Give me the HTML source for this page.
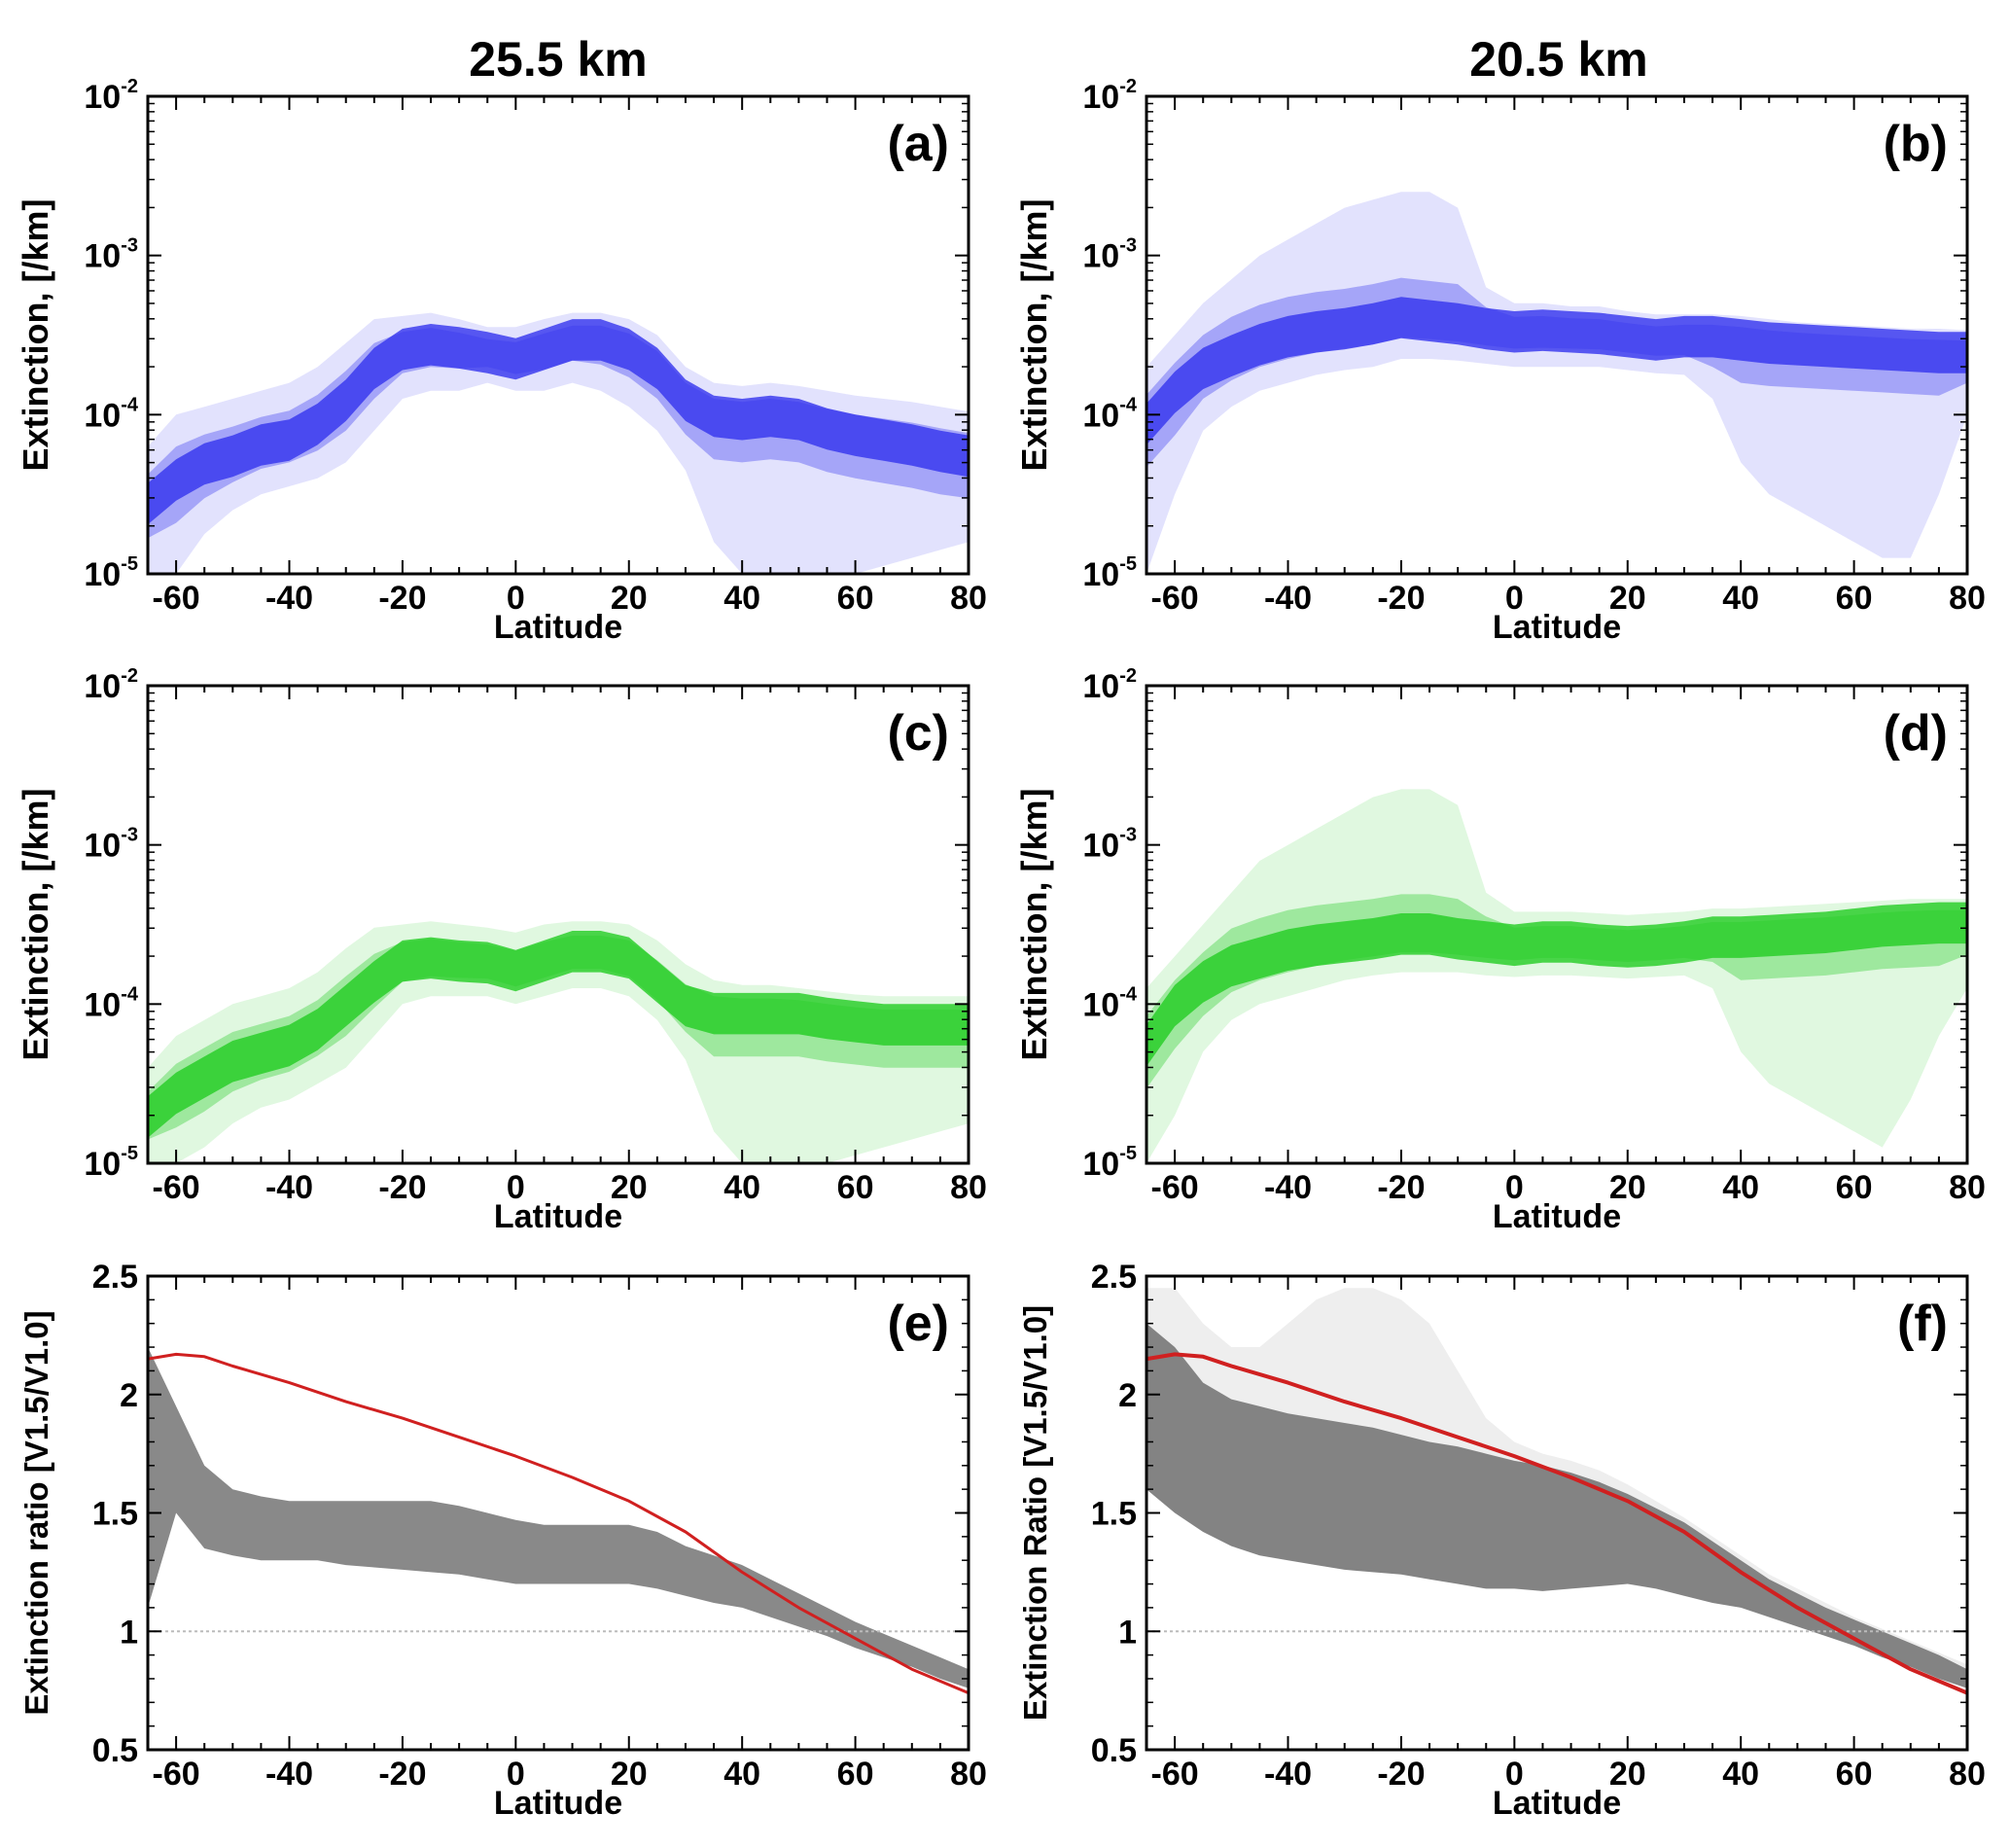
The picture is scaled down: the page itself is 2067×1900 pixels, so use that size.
<!DOCTYPE html>
<html><head><meta charset="utf-8"><style>
html,body{margin:0;padding:0;background:#fff;}
svg{display:block;font-family:"Liberation Sans",Arial,sans-serif;}
</style></head><body>
<svg id="fig" width="2067" height="1900" viewBox="0 0 2067 1900">
<text x="574" y="78" font-size="50" font-weight="bold" text-anchor="middle">25.5 km</text>
<text x="1603" y="78" font-size="50" font-weight="bold" text-anchor="middle">20.5  km</text>
</svg>
<script>
const lats = [-65,-60,-55,-50,-45,-40,-35,-30,-25,-20,-15,-10,-5,0,5,10,15,20,25,30,35,40,45,50,55,60,65,70,75,80];
// log10 extinction centres
const centerA = [-4.55,-4.4,-4.3,-4.25,-4.18,-4.15,-4.05,-3.9,-3.7,-3.58,-3.55,-3.57,-3.6,-3.64,-3.58,-3.52,-3.52,-3.58,-3.7,-3.9,-4.0,-4.02,-4.0,-4.02,-4.08,-4.12,-4.15,-4.18,-4.22,-4.25];
const outerLoA = [-5,-5,-4.75,-4.6,-4.5,-4.45,-4.4,-4.3,-4.1,-3.9,-3.85,-3.85,-3.8,-3.85,-3.85,-3.8,-3.85,-3.95,-4.1,-4.35,-4.8,-5,-5,-5,-5,-5,-4.95,-4.9,-4.85,-4.8];
const outerHiA = [-4.2,-4.0,-3.95,-3.9,-3.85,-3.8,-3.7,-3.55,-3.4,-3.38,-3.36,-3.4,-3.45,-3.45,-3.4,-3.36,-3.36,-3.4,-3.5,-3.7,-3.8,-3.82,-3.8,-3.82,-3.85,-3.88,-3.9,-3.92,-3.95,-3.98];
const centerB = [-4.05,-3.85,-3.7,-3.62,-3.55,-3.5,-3.47,-3.45,-3.42,-3.38,-3.4,-3.42,-3.45,-3.47,-3.46,-3.47,-3.48,-3.5,-3.52,-3.5,-3.5,-3.52,-3.54,-3.55,-3.56,-3.57,-3.58,-3.59,-3.6,-3.6];
const outerLoB = [-5,-4.5,-4.1,-3.95,-3.85,-3.8,-3.75,-3.72,-3.7,-3.65,-3.65,-3.66,-3.68,-3.7,-3.7,-3.7,-3.7,-3.72,-3.74,-3.75,-3.9,-4.3,-4.5,-4.6,-4.7,-4.8,-4.9,-4.9,-4.5,-4.0];
const outerHiB = [-3.7,-3.5,-3.3,-3.15,-3.0,-2.9,-2.8,-2.7,-2.65,-2.6,-2.6,-2.7,-3.2,-3.3,-3.3,-3.32,-3.32,-3.35,-3.37,-3.37,-3.37,-3.38,-3.4,-3.42,-3.43,-3.44,-3.45,-3.46,-3.46,-3.47];
const centerC = [-4.7,-4.55,-4.45,-4.35,-4.3,-4.25,-4.15,-4.0,-3.85,-3.72,-3.7,-3.72,-3.73,-3.78,-3.72,-3.66,-3.66,-3.7,-3.85,-4.0,-4.05,-4.05,-4.05,-4.05,-4.08,-4.1,-4.12,-4.12,-4.12,-4.12];
const outerLoC = [-5,-5,-4.9,-4.75,-4.65,-4.6,-4.5,-4.4,-4.2,-4.0,-3.95,-3.95,-3.95,-4.0,-3.95,-3.9,-3.9,-3.95,-4.1,-4.35,-4.8,-5,-5,-5,-5,-4.95,-4.9,-4.85,-4.8,-4.75];
const outerHiC = [-4.4,-4.2,-4.1,-4.0,-3.95,-3.9,-3.8,-3.65,-3.52,-3.5,-3.48,-3.5,-3.52,-3.55,-3.5,-3.48,-3.48,-3.5,-3.6,-3.75,-3.85,-3.88,-3.88,-3.9,-3.92,-3.94,-3.95,-3.95,-3.95,-3.95];
const centerD = [-4.25,-4.0,-3.85,-3.75,-3.7,-3.65,-3.62,-3.6,-3.58,-3.55,-3.55,-3.58,-3.6,-3.62,-3.6,-3.6,-3.62,-3.63,-3.62,-3.6,-3.57,-3.57,-3.56,-3.55,-3.54,-3.52,-3.5,-3.49,-3.48,-3.48];
const outerLoD = [-5,-4.7,-4.3,-4.1,-4.0,-3.95,-3.9,-3.85,-3.82,-3.8,-3.8,-3.8,-3.82,-3.83,-3.82,-3.82,-3.83,-3.84,-3.83,-3.82,-3.9,-4.3,-4.5,-4.6,-4.7,-4.8,-4.9,-4.6,-4.2,-3.9];
const outerHiD = [-3.9,-3.7,-3.5,-3.3,-3.1,-3.0,-2.9,-2.8,-2.7,-2.65,-2.65,-2.75,-3.3,-3.42,-3.42,-3.42,-3.43,-3.44,-3.43,-3.42,-3.4,-3.4,-3.39,-3.38,-3.37,-3.36,-3.35,-3.34,-3.34,-3.34];
// ratio clouds
const loE = [1.1,1.5,1.35,1.32,1.3,1.3,1.3,1.28,1.27,1.26,1.25,1.24,1.22,1.2,1.2,1.2,1.2,1.2,1.18,1.15,1.12,1.1,1.06,1.02,0.98,0.93,0.89,0.85,0.8,0.76];
const hiE = [2.2,1.95,1.7,1.6,1.57,1.55,1.55,1.55,1.55,1.55,1.55,1.53,1.5,1.47,1.45,1.45,1.45,1.45,1.42,1.36,1.32,1.28,1.22,1.16,1.1,1.04,0.99,0.94,0.89,0.84];
const loF = [1.6,1.5,1.42,1.36,1.32,1.3,1.28,1.26,1.25,1.24,1.22,1.2,1.18,1.18,1.17,1.18,1.19,1.2,1.18,1.15,1.12,1.1,1.06,1.02,0.98,0.94,0.89,0.85,0.8,0.76];
const hiF = [2.3,2.2,2.05,1.98,1.95,1.92,1.9,1.88,1.86,1.83,1.8,1.78,1.75,1.72,1.7,1.67,1.63,1.58,1.52,1.46,1.38,1.3,1.22,1.16,1.1,1.05,1.0,0.95,0.9,0.84];
const outHiF = [2.45,2.45,2.3,2.2,2.2,2.3,2.4,2.45,2.45,2.4,2.3,2.1,1.9,1.8,1.75,1.72,1.68,1.62,1.55,1.48,1.4,1.32,1.24,1.18,1.12,1.06,1.01,0.96,0.91,0.86];
const curveLat = [-65,-60,-55,-50,-40,-30,-20,-10,0,10,20,30,40,50,60,70,80];
const curveVal = [2.15,2.17,2.16,2.12,2.05,1.97,1.9,1.82,1.74,1.65,1.55,1.42,1.25,1.1,0.97,0.84,0.74];
const xTicks = [-60,-40,-20,0,20,40,60,80];
const logTicks = [-5,-4,-3,-2];
const ratioTicks = [0.5,1,1.5,2,2.5];
const ratioLabels = ['0.5','1','1.5','2','2.5'];

const NS='http://www.w3.org/2000/svg';
const svg=document.getElementById('fig');
function mk(tag,attrs,parent){const e=document.createElementNS(NS,tag);for(const k in attrs)e.setAttribute(k,attrs[k]);(parent||svg).appendChild(e);return e;}

function panel(cfg){
  const g=mk('g',{});
  
  
  const L=cfg.L,T=cfg.T,W=844,H=cfg.H;
  const xs=v=>L+(v+65)/145*W;
  const ys=cfg.log? (v=>T+H-(v+5)/3*H) : (v=>T+H-(v-0.5)/2*H);
  const clip=mk('clipPath',{id:'c'+cfg.tag},g);
  mk('rect',{x:L,y:T,width:W,height:H},clip);
  const cg=mk('g',{'clip-path':'url(#c'+cfg.tag+')'},g);
  const gBand=(lo,hi,fill,op,name)=>{
    let d='';
    lats.forEach((la,i)=>{d+=(i?'L':'M')+xs(la).toFixed(1)+','+ys(hi[i]).toFixed(1);});
    for(let i=lats.length-1;i>=0;i--) d+='L'+xs(lats[i]).toFixed(1)+','+ys(lo[i]).toFixed(1);
    const p=mk('path',{d:d+'Z',fill:fill,'fill-opacity':op},cg);
    
    
  };
  if(cfg.log){
    gBand(cfg.oLo,cfg.oHi,cfg.color,0.14,'scatter-outer-'+cfg.tag);
    const mLo=cfg.center.map((c,i)=>Math.max(c-0.28,(c+cfg.oLo[i])/2));
    const mHi=cfg.center.map((c,i)=>Math.min(c+0.24,(c+cfg.oHi[i])/2));
    gBand(mLo,mHi,cfg.color,0.35,'scatter-mid-'+cfg.tag);
    const cLo=cfg.center.map(c=>c-0.14);
    const cHi=cfg.center.map(c=>c+0.12);
    gBand(cLo,cHi,cfg.color,0.8,'scatter-core-'+cfg.tag);
  } else {
    if(cfg.oHi) gBand(cfg.lo,cfg.oHi,'#555',0.1,'scatter-outer-'+cfg.tag);
    gBand(cfg.lo,cfg.hi,'#4a4a4a',0.65,'scatter-core-'+cfg.tag);
    const one=mk('line',{x1:L,x2:L+W,y1:ys(1),y2:ys(1),stroke:'#bbb','stroke-width':2,'stroke-dasharray':'3 3'},cg);
    
    
    let d='';curveLat.forEach((la,i)=>{d+=(i?'L':'M')+xs(la).toFixed(1)+','+ys(curveVal[i]).toFixed(1);});
    const c=mk('path',{d:d,fill:'none',stroke:'#d02020','stroke-width':cfg.tag==='f'?4:3,'stroke-linejoin':'round'},cg);
    
    
  }
  mk('rect',{x:L,y:T,width:W,height:H,fill:'none',stroke:'#000','stroke-width':3},g);
  for(let v=-65;v<=80;v+=5){
    const major=xTicks.includes(v);const len=major?14:7;const x=xs(v);
    mk('line',{x1:x,x2:x,y1:T+H,y2:T+H-len,stroke:'#000','stroke-width':2},g);
    mk('line',{x1:x,x2:x,y1:T,y2:T+len,stroke:'#000','stroke-width':2},g);
  }
  xTicks.forEach(v=>{
    const t=mk('text',{x:xs(v),y:T+H+36,'font-size':34,'font-weight':'bold','text-anchor':'middle'},g);
    t.textContent=String(v);
    
    
  });
  const xl=mk('text',{x:L+W/2,y:T+H+66,'font-size':34,'font-weight':'bold','text-anchor':'middle'},g);
  xl.textContent='Latitude';
  
  
  if(cfg.log){
    logTicks.forEach(p=>{
      const y=ys(p);
      mk('line',{x1:L,x2:L+14,y1:y,y2:y,stroke:'#000','stroke-width':2},g);
      mk('line',{x1:L+W,x2:L+W-14,y1:y,y2:y,stroke:'#000','stroke-width':2},g);
      if(p<-2) for(let m=2;m<=9;m++){const yy=ys(p+Math.log10(m));
        mk('line',{x1:L,x2:L+7,y1:yy,y2:yy,stroke:'#000','stroke-width':1.5},g);
        mk('line',{x1:L+W,x2:L+W-7,y1:yy,y2:yy,stroke:'#000','stroke-width':1.5},g);}
      const t=mk('text',{x:L-10,y:y+12,'font-size':34,'font-weight':'bold','text-anchor':'end'},g);
      
      
      const a=mk('tspan',{},t);a.textContent='10';
      const b=mk('tspan',{'font-size':20,dy:-16},t);b.textContent=String(p);
    });
  } else {
    ratioTicks.forEach((v,i)=>{
      const y=ys(v);
      mk('line',{x1:L,x2:L+14,y1:y,y2:y,stroke:'#000','stroke-width':2},g);
      mk('line',{x1:L+W,x2:L+W-14,y1:y,y2:y,stroke:'#000','stroke-width':2},g);
      if(v<2.5) for(let m=1;m<5;m++){const yy=ys(v+m*0.1);
        mk('line',{x1:L,x2:L+7,y1:yy,y2:yy,stroke:'#000','stroke-width':1.5},g);
        mk('line',{x1:L+W,x2:L+W-7,y1:yy,y2:yy,stroke:'#000','stroke-width':1.5},g);}
      const t=mk('text',{x:L-10,y:y+12,'font-size':34,'font-weight':'bold','text-anchor':'end'},g);
      t.textContent=ratioLabels[i];
      
      
    });
  }
  const yx=L-103, yc=T+H/2;
  const yl=mk('text',{x:yx,y:yc,'font-size':cfg.log?36:33,'font-weight':'bold','text-anchor':'middle',transform:'rotate(-90 '+yx+' '+yc+')'},g);
  yl.textContent=cfg.ylabel;
  
  
  const tg=mk('text',{x:L+W-20,y:T+66,'font-size':52,'font-weight':'bold','text-anchor':'end'},g);
  tg.textContent='('+cfg.tag+')';
  
  
}
const blue='#3333ee',green='#22cc22';
panel({tag:'a',L:152,T:99,H:491,log:true,center:centerA,oLo:outerLoA,oHi:outerHiA,color:blue,ylabel:'Extinction, [/km]'});
panel({tag:'b',L:1179,T:99,H:491,log:true,center:centerB,oLo:outerLoB,oHi:outerHiB,color:blue,ylabel:'Extinction, [/km]'});
panel({tag:'c',L:152,T:705,H:491,log:true,center:centerC,oLo:outerLoC,oHi:outerHiC,color:green,ylabel:'Extinction, [/km]'});
panel({tag:'d',L:1179,T:705,H:491,log:true,center:centerD,oLo:outerLoD,oHi:outerHiD,color:green,ylabel:'Extinction, [/km]'});
panel({tag:'e',L:152,T:1312,H:487,log:false,lo:loE,hi:hiE,ylabel:'Extinction ratio [V1.5/V1.0]'});
panel({tag:'f',L:1179,T:1312,H:487,log:false,lo:loF,hi:hiF,oHi:outHiF,ylabel:'Extinction Ratio [V1.5/V1.0]'});
</script>
</body></html>
